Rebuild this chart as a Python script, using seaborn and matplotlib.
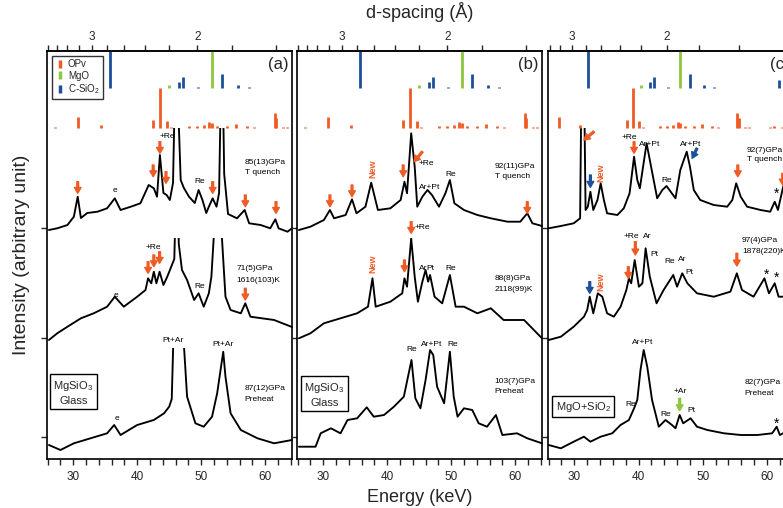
import numpy as np
import matplotlib
matplotlib.use("Agg")
import matplotlib.pyplot as plt
from matplotlib.lines import Line2D
from matplotlib.patches import Rectangle
from matplotlib.ticker import FixedLocator, MultipleLocator
import seaborn as sns

# ---- spectra (energy in keV, intensity in arbitrary units, offsets included)
a1_energy = [26.2, 27.5, 29.1, 30.1, 30.7, 31.2, 32.2, 33.8, 35.3, 36.5, 37.4, 39.0, 40.5, 41.8, 42.6,
             43.1, 43.55, 44.1, 44.6, 45.1, 45.6, 46.05, 46.8, 47.3, 48.1, 49.0, 49.6, 50.2, 50.8,
             51.2, 51.8, 52.4, 52.8, 53.25, 53.6, 54.2, 55.6, 56.8, 57.5, 59.3, 60.8, 61.6, 62.1,
             63.5, 64.2]
a1_counts = [229, 230.7, 234, 242.3, 262.3, 241, 246, 247.3, 250.7, 260.7, 249, 252.3, 255.7, 274,
             270.7, 262.3, 304, 266, 264, 259, 276, 420, 279, 271, 262.3, 256, 269, 259, 246, 252.3,
             260.7, 252.3, 266, 430, 285, 245, 240.7, 249, 235.7, 234, 230.7, 239.7, 230.7, 227.3,
             230.7]
a2_energy = [26.2, 27.5, 29.1, 31.2, 33.2, 35.3, 36.5, 37.9, 40.0, 41.3, 41.7, 42.2, 42.6, 43.0, 43.5,
             44.1, 44.7, 45.8, 46.2, 46.5, 47.0, 47.8, 48.9, 49.6, 50.4, 51.2, 51.6, 52.6, 53.8, 54.6,
             56.2, 56.9, 57.7, 61.4, 64.2]
a2_counts = [119, 125.7, 132.3, 140.7, 145.7, 152.3, 162.3, 152.3, 162.3, 169, 180.7, 175.7, 187.3,
             175.7, 187.3, 174, 182.3, 200, 300, 215, 189, 179, 159, 165.7, 152.3, 165.7, 182.3, 290,
             162.3, 149, 145.7, 155.7, 142.3, 139, 132]
a3_energy = [26.2, 28.0, 30.1, 32.7, 35.3, 36.4, 37.4, 40.0, 42.6, 44.2, 45.0, 45.4, 45.7, 46.3, 47.1,
             47.8, 49.1, 50.4, 51.7, 52.5, 53.45, 53.8, 54.6, 56.2, 58.8, 61.4, 64.2]
a3_counts = [14, 9, 15.7, 20.7, 25.7, 34, 24, 34, 39, 45.7, 52.3, 60, 130, 125, 135, 62.3, 35.7, 32.3,
             42.3, 65.7, 107.3, 82.3, 45.7, 29, 20.7, 15.7, 19]

b1_energy = [26.2, 28.0, 30.1, 31.05, 31.7, 33.5, 34.5, 35.2, 36.6, 37.5, 38.55, 40.5, 42.1, 42.7,
             43.1, 43.75, 44.3, 44.7, 45.5, 46.3, 47.0, 48.1, 49.1, 49.8, 50.5, 52.0, 54.1, 56.2,
             58.8, 60.8, 61.9, 62.7, 64.2]
b1_counts = [229, 232.3, 239, 249, 240.7, 244, 259.7, 245.7, 252.3, 276.3, 249, 250.7, 259, 277.3,
             265.7, 325.7, 292.3, 252.3, 262.3, 269, 264, 252.3, 265.7, 279, 255.7, 249, 244, 240.7,
             237.3, 237.3, 245.7, 235.7, 233]
b2_energy = [26.2, 28.0, 30.1, 32.7, 35.3, 37.0, 37.7, 38.2, 40.5, 42.35, 42.7, 43.1, 43.75, 44.3,
             44.8, 45.5, 46.0, 46.4, 46.7, 47.4, 48.6, 49.8, 50.7, 52.0, 54.1, 56.2, 58.2, 61.4, 64.2]
b2_counts = [120.7, 125.7, 135.7, 140.7, 145.7, 152.3, 180.7, 152.3, 157.3, 165.7, 180.7, 172.3,
             220.7, 182.3, 157.3, 177.3, 189, 177.3, 184, 162.3, 155.7, 184, 152.3, 152.3, 145.7,
             150.7, 139, 139, 120.7]
b3_energy = [26.2, 28.8, 29.6, 31.2, 32.7, 33.8, 35.3, 36.8, 37.9, 39.5, 41.05, 42.6, 43.8, 44.4,
             45.2, 46.0, 46.7, 47.2, 47.8, 48.9, 49.8, 50.4, 51.0, 52.0, 53.3, 54.3, 55.6, 57.0,
             58.0, 60.3, 61.9, 64.2]
b3_counts = [12.3, 12.3, 25.7, 30.7, 25.7, 39, 40.7, 51.7, 42.3, 44, 52.3, 62.3, 99, 60.7, 50.7, 79,
             109, 104, 72.3, 55.7, 107.3, 62.3, 42.3, 50.7, 49, 35.7, 32.3, 44, 24, 25.7, 20.7, 15.7]

c1_energy = [26.0, 27.9, 29.9, 30.9, 31.3, 31.75, 32.1, 32.5, 32.95, 33.6, 34.1, 34.6, 35.1, 36.7,
             37.7, 38.6, 39.3, 39.8, 40.2, 41.25, 42.1, 42.9, 43.7, 44.35, 45.0, 45.75, 46.5, 47.5,
             48.0, 48.6, 49.6, 51.7, 53.8, 54.6, 55.2, 55.9, 56.9, 59.0, 60.5, 61.2, 61.7, 62.4,
             63.0, 64.2]
c1_counts = [230.7, 233, 235.7, 240.7, 500, 249, 252.3, 267.3, 249, 259, 275.7, 259, 245.7, 244,
             250.7, 265.7, 302.3, 279, 270.7, 315.7, 287.3, 260.7, 269, 273, 267.3, 260.7, 289,
             307.3, 292.3, 269, 259, 254, 252.3, 259, 275.7, 262.3, 252.3, 249, 247.3, 257.3, 249,
             269, 285, 255]
c2_energy = [26.0, 27.9, 29.9, 31.5, 32.0, 32.4, 32.95, 33.65, 34.35, 35.1, 36.15, 37.2, 38.1, 38.5,
             38.85, 39.4, 40.05, 40.6, 41.1, 41.75, 42.8, 43.9, 45.4, 46.0, 46.8, 47.6, 49.1, 51.7,
             54.3, 55.3, 56.1, 57.9, 59.6, 60.3, 61.2, 61.8, 62.5, 64.2]
c2_counts = [119, 122.3, 132.3, 142.3, 149, 162.3, 145.7, 165.7, 162.3, 145.7, 142.3, 152.3, 169,
             180.7, 175.7, 199, 172.3, 175.7, 210.7, 182.3, 155.7, 169, 184, 172.3, 185.7, 175.7,
             165.7, 162.3, 167.3, 185.7, 169, 162.3, 180.7, 165.7, 175.7, 162.3, 162.3, 160]
c3_energy = [26.0, 27.9, 29.9, 31.5, 32.5, 34.1, 35.9, 37.2, 38.5, 39.3, 39.8, 40.3, 40.8, 41.35,
             42.1, 43.15, 44.2, 45.2, 45.75, 46.4, 46.95, 48.1, 49.1, 50.7, 53.3, 55.9, 58.5, 60.8,
             61.5, 62.0, 62.5, 64.2]
c3_counts = [14, 10.7, 17.3, 22.3, 17.3, 22.3, 25.7, 34, 39, 50.7, 59, 89, 109, 92.3, 59, 32.3, 39,
             34, 30.7, 44, 35.7, 40.7, 32.3, 29, 25.7, 24, 24, 25.7, 32.3, 24, 25.7, 26]

# baseline of each trace, marked on the left axis
trace_baselines = [22, 121, 231]

# ---- reference stick patterns (d-spacing in A, relative height)
opv_d = [3.646, 3.218, 2.872, 2.325, 2.269, 2.215, 2.181, 2.054, 2.0, 1.960, 1.930, 1.911, 1.882,
         1.826, 1.783, 1.730, 1.698, 1.607, 1.600, 1.573, 1.556, 1.469, 1.457, 1.427]
opv_h = [1.5, 11.6, 3.3, 8.3, 40, 7.3, 1.5, 2, 2.7, 3.3, 6, 5, 2.5, 2, 4.5, 2, 1.5, 15.6, 10, 1.5,
         1.5, 1.5, 2, 1.5]
mgo_d = [2.2, 1.911]
mgo_h = [3.3, 38]
csio2_d = [2.768, 2.124, 2.093, 1.996, 1.854, 1.774, 1.718, 1.4385]
csio2_h = [38, 6.6, 11.6, 1.5, 14.3, 3.3, 1.5, 8]

# E*d constant of each panel (keV*A), from the d-spacing axis
energy_d = [98.8, 98.8, 88.9]
panel_tags = ["(a)", "(b)", "(c)"]

ORANGE = "#ef5b25"
GREEN = "#8dc63f"
BLUE = "#1d4f9b"

sns.set_style("ticks")
plt.rcParams["font.family"] = ["Liberation Sans", "DejaVu Sans"]
plt.rcParams["mathtext.fontset"] = "custom"
plt.rcParams["mathtext.rm"] = "Liberation Sans"
plt.rcParams["mathtext.default"] = "regular"

W, H = 783, 508
fig = plt.figure(figsize=(W / 100, H / 100), dpi=100)
lefts = [47, 297, 548]
widths = [245, 245, 246]
axes = [fig.add_axes([l / W, 49 / H, w / W, 408 / H]) for l, w in zip(lefts, widths)]

traces = [
    [(a1_energy, a1_counts, 331), (a2_energy, a2_counts, 221), (a3_energy, a3_counts, 110.7)],
    [(b1_energy, b1_counts, 331), (b2_energy, b2_counts, 221), (b3_energy, b3_counts, 110.7)],
    [(c1_energy, c1_counts, 331), (c2_energy, c2_counts, 221), (c3_energy, c3_counts, 110.7)],
]


def note(ax, x, y, s, color="black", size=6, ha="center", **kw):
    ax.text(x, y, s, color=color, fontsize=size, ha=ha, va="center", **kw)


def arrow(ax, x0, y0, x1, y1, color=ORANGE):
    ax.annotate("", xy=(x1, y1), xytext=(x0, y0),
                arrowprops=dict(facecolor=color, edgecolor=color, width=1.3,
                                headwidth=4.8, headlength=4.2, shrink=0))


def down(ax, x, y0, y1, color=ORANGE):
    arrow(ax, x, y0, x, y1, color)


def box(ax, x, y, s):
    ax.text(x, y, s, fontsize=8, ha="center", va="center", multialignment="center",
            linespacing=1.35,
            bbox=dict(boxstyle="square,pad=0.3", fc="white", ec="black", lw=1))


for ax, panel, k, tag in zip(axes, traces, energy_d, panel_tags):
    for e, c, top in panel:
        sns.lineplot(x=e, y=c, ax=ax, color="black", lw=1.35, sort=False, estimator=None)
        ax.lines[-1].set_clip_path(Rectangle((20, -20), 50, top + 20, transform=ax.transData))

    ax.vlines(k / np.asarray(opv_d), 330.7, 330.7 + np.asarray(opv_h), color=ORANGE, lw=2)
    ax.vlines(k / np.asarray(mgo_d), 370.7, 370.7 + np.asarray(mgo_h), color=GREEN, lw=2)
    ax.vlines(k / np.asarray(csio2_d), 370.7, 370.7 + np.asarray(csio2_h), color=BLUE, lw=2)

    ax.set_xlim(25.9, 64.2)
    ax.set_ylim(0, 408)
    ax.set_yticks(trace_baselines)
    ax.set_yticklabels([])
    ax.tick_params(axis="y", direction="out", length=4, width=1)
    ax.set_xticks([30, 40, 50, 60])
    ax.xaxis.set_minor_locator(MultipleLocator(2))
    ax.tick_params(axis="x", which="major", direction="out", length=4, width=1,
                   labelsize=8.5, pad=5)
    ax.tick_params(axis="x", which="minor", direction="out", length=4, width=1)
    ax.set_xlabel("")
    ax.set_ylabel("")
    for sp in ax.spines.values():
        sp.set_visible(True)
        sp.set_linewidth(1.2)
        sp.set_color("black")

    conv = lambda x, k=k: k / np.clip(np.asarray(x, float), 1e-3, None)
    sec = ax.secondary_xaxis("top", functions=(conv, conv))
    sec.set_xticks([3, 2])
    sec.set_xticklabels(["3", "2"])
    sec.xaxis.set_minor_locator(FixedLocator([1.4, 1.6, 1.8, 2.2, 2.4, 2.6, 2.8, 3.2, 3.4, 3.6, 3.8]))
    sec.tick_params(which="both", direction="out", length=4, width=1, labelsize=8.5, pad=2)
    sec.spines["top"].set_linewidth(1.2)

    ax.text(60.4, 394, tag, fontsize=12, ha="left", va="center")

ax_a, ax_b, ax_c = axes

# ---- panel (a)
for x in [30.7, 51.8]:
    down(ax_a, x, 277.3, 265.7)
down(ax_a, 42.5, 294, 282.3)
down(ax_a, 43.55, 317.3, 305.7)
down(ax_a, 44.5, 287.3, 275.7)
down(ax_a, 56.9, 264, 252.3)
down(ax_a, 61.7, 257.3, 245.7)
note(ax_a, 44.7, 322.3, "+Re")
note(ax_a, 36.5, 268.3, "e")
note(ax_a, 49.8, 277.3, "Re")
note(ax_a, 56.8, 296.7, "85(13)GPa", ha="left")
note(ax_a, 56.8, 286.3, "T quench", ha="left")
down(ax_a, 41.7, 197.3, 185.7)
down(ax_a, 42.6, 204, 192.3)
down(ax_a, 43.5, 207.3, 195.7)
down(ax_a, 56.9, 170.7, 159)
note(ax_a, 42.5, 211.3, "+Re")
note(ax_a, 36.6, 163.3, "e")
note(ax_a, 49.8, 172.3, "Re")
note(ax_a, 55.5, 190, "71(5)GPa", ha="left")
note(ax_a, 55.5, 179, "1616(103)K", ha="left")
note(ax_a, 45.6, 119, "Pt+Ar")
note(ax_a, 53.5, 115, "Pt+Ar")
note(ax_a, 36.9, 40.7, "e")
note(ax_a, 56.8, 70.7, "87(12)GPa", ha="left")
note(ax_a, 56.8, 59.7, "Preheat", ha="left")
box(ax_a, 30.0, 66.3, "MgSiO$_3$\nGlass")

handles = [Line2D([], [], color=c, marker="|", ls="none", markersize=6, markeredgewidth=2.5)
           for c in [ORANGE, GREEN, BLUE]]
leg = ax_a.legend(handles, ["OPv", "MgO", "C-SiO$_2$"], loc="upper left",
                  bbox_to_anchor=(0.02, 0.988), borderaxespad=0, fontsize=7, frameon=True,
                  fancybox=False, edgecolor="black", handlelength=1.0, handletextpad=0.3,
                  labelspacing=0.15, borderpad=0.35)
leg.get_frame().set_linewidth(1.0)

# ---- panel (b)
down(ax_b, 31.05, 264, 252.3)
down(ax_b, 34.5, 274, 262.3)
down(ax_b, 42.5, 294, 282.3)
down(ax_b, 61.9, 257.3, 245.7)
arrow(ax_b, 45.5, 307.3, 44.2, 297.3)
note(ax_b, 37.8, 290.7, "New", color=ORANGE, size=6.5, rotation=90, fontweight="bold")
note(ax_b, 44.95, 295.7, "+Re", ha="left")
note(ax_b, 46.7, 271.7, "Ar+Pt")
note(ax_b, 49.9, 285, "Re")
note(ax_b, 56.8, 292.3, "92(11)GPa", ha="left")
note(ax_b, 56.8, 283, "T quench", ha="left")
down(ax_b, 42.7, 199, 187.3)
down(ax_b, 43.75, 237.3, 225.7)
note(ax_b, 37.7, 195.7, "New", color=ORANGE, size=6.5, rotation=90, fontweight="bold")
note(ax_b, 44.3, 231.7, "+Re", ha="left")
note(ax_b, 45.6, 190, "Ar")
note(ax_b, 46.8, 190, "Pt")
note(ax_b, 49.9, 190.7, "Re")
note(ax_b, 56.8, 180.7, "88(8)GPa", ha="left")
note(ax_b, 56.8, 169.7, "2118(99)K", ha="left")
note(ax_b, 43.8, 109.7, "Re")
note(ax_b, 46.9, 114, "Ar+Pt")
note(ax_b, 50.3, 114, "Re")
note(ax_b, 56.8, 77.3, "103(7)GPa", ha="left")
note(ax_b, 56.8, 67.3, "Preheat", ha="left")
box(ax_b, 30.2, 64.5, "MgSiO$_3$\nGlass")

# ---- panel (c)
arrow(ax_c, 33.05, 327.3, 31.5, 319)
down(ax_c, 32.5, 284, 271.7, BLUE)
down(ax_c, 39.3, 317.3, 305.7)
down(ax_c, 55.45, 294, 282.3)
down(ax_c, 62.45, 285.7, 274)
arrow(ax_c, 49.1, 310.7, 48.35, 300.7, BLUE)
note(ax_c, 34.2, 286.3, "New", color=ORANGE, size=6.5, rotation=90, fontweight="bold")
note(ax_c, 38.5, 321.7, "+Re")
note(ax_c, 41.75, 315, "Ar+Pt")
note(ax_c, 44.45, 279, "Re")
note(ax_c, 48.1, 315, "Ar+Pt")
note(ax_c, 61.45, 265.7, "*", size=10)
note(ax_c, 56.9, 309, "92(7)GPa", ha="left")
note(ax_c, 56.9, 299.7, "T quench", ha="left")
down(ax_c, 32.4, 177.3, 165.7, BLUE)
down(ax_c, 38.4, 192.3, 180.7)
down(ax_c, 39.5, 217.3, 204)
down(ax_c, 55.3, 205.7, 193)
note(ax_c, 34.1, 177.3, "New", color=ORANGE, size=6.5, rotation=90, fontweight="bold")
note(ax_c, 38.85, 223, "+Re")
note(ax_c, 41.35, 223, "Ar")
note(ax_c, 42.4, 205, "Pt")
note(ax_c, 44.9, 197.3, "Re")
note(ax_c, 46.8, 199.7, "Ar")
note(ax_c, 47.9, 186.7, "Pt")
note(ax_c, 59.9, 184, "*", size=10)
note(ax_c, 61.45, 181.3, "*", size=10)
note(ax_c, 56.1, 218.3, "97(4)GPa", ha="left")
note(ax_c, 56.1, 207.3, "1878(220)K", ha="left")
note(ax_c, 40.7, 116.3, "Ar+Pt")
note(ax_c, 38.75, 54.7, "Re")
note(ax_c, 44.2, 45, "Re")
note(ax_c, 46.5, 67.3, "+Ar")
down(ax_c, 46.4, 60.7, 48.3, GREEN)
note(ax_c, 48.2, 48.3, "Pt")
note(ax_c, 61.45, 35, "*", size=10)
note(ax_c, 56.5, 76.7, "82(7)GPa", ha="left")
note(ax_c, 56.5, 65.7, "Preheat", ha="left")
box(ax_c, 31.4, 52.3, "MgO+SiO$_2$")

fig.text(22 / W, 1 - 255 / H, "Intensity (arbitrary unit)", rotation=90, fontsize=14,
         ha="center", va="center")
fig.text(420 / W, 1 - 497 / H, "Energy (keV)", fontsize=13, ha="center", va="center")
fig.text(420 / W, 1 - 12 / H, "d-spacing (Å)", fontsize=13, ha="center", va="center")

fig.savefig("out.png", dpi=100)
